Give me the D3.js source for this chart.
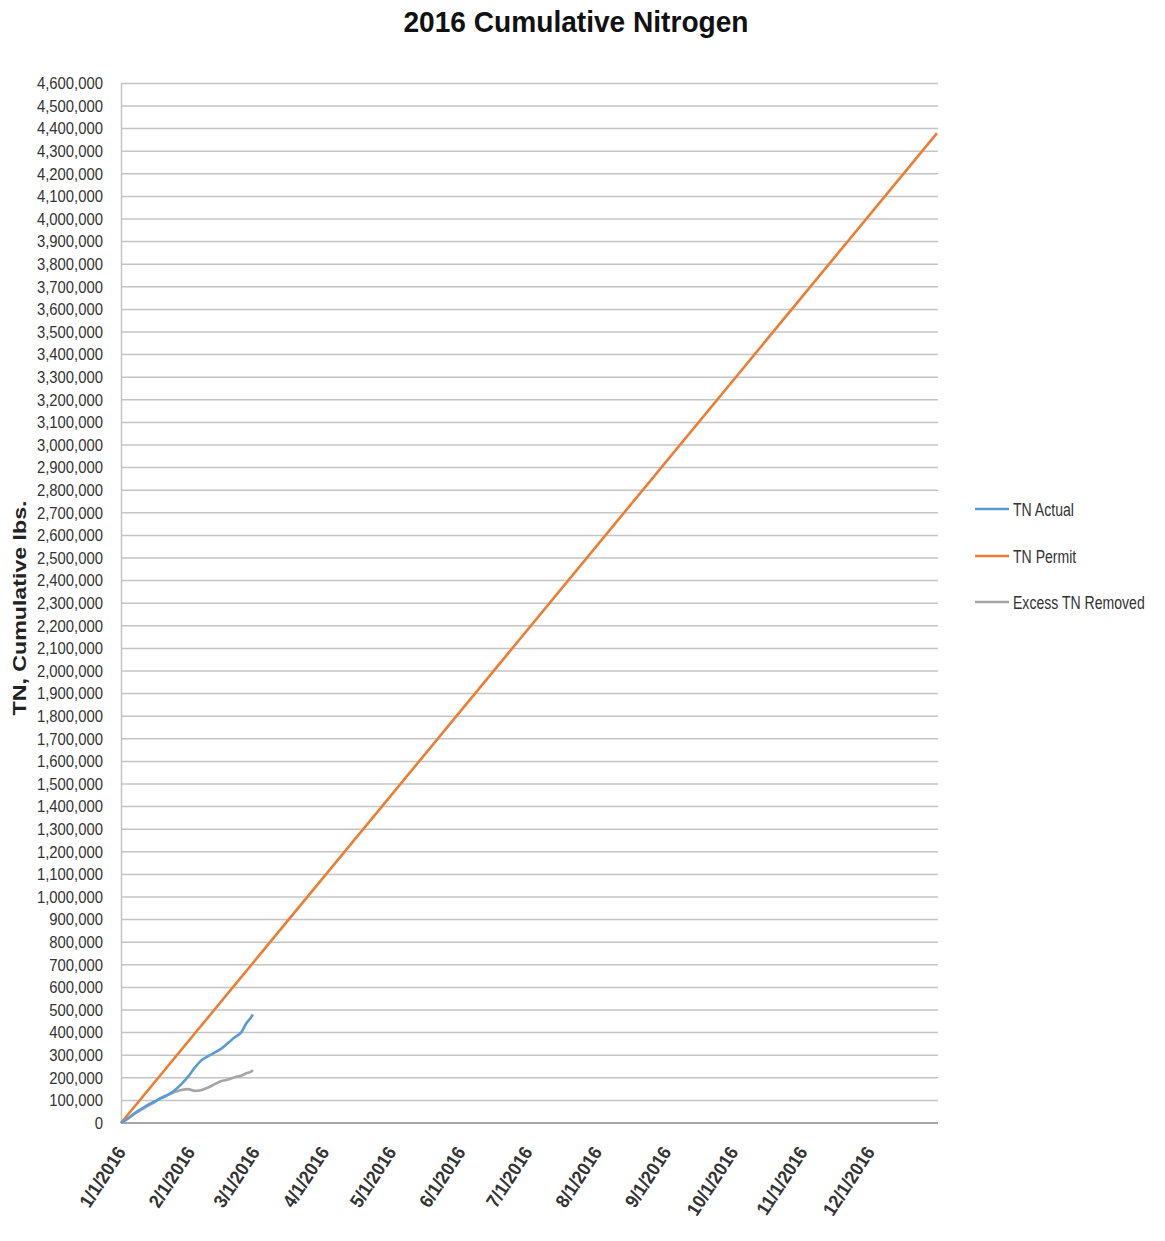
<!DOCTYPE html>
<html><head><meta charset="utf-8">
<script src="https://cdn.jsdelivr.net/npm/d3@7"></script>
<style>body{margin:0;background:#fff;} svg{display:block}</style>
</head><body>
<script>
const chartTitle = "2016 Cumulative Nitrogen";
const yAxisTitle = "TN, Cumulative lbs.";
const seriesNames = ["TN Actual", "TN Permit", "Excess TN Removed"];
const seriesColors = ["#5b9bd5", "#ed7d31", "#a5a5a5"];

const actualDates = ["2016-01-01","2016-01-04","2016-01-07","2016-01-10","2016-01-13","2016-01-16","2016-01-19","2016-01-22","2016-01-25","2016-01-28","2016-01-31","2016-02-03","2016-02-06","2016-02-09","2016-02-12","2016-02-15","2016-02-18","2016-02-21","2016-02-24","2016-02-26","2016-02-28","2016-02-29"];
const actualValues = [0,20000,43000,62000,80000,95000,110000,124000,145000,172000,205000,245000,278000,296000,312000,330000,355000,380000,404000,440000,465000,480000];

const excessDates = ["2016-01-01","2016-01-04","2016-01-07","2016-01-10","2016-01-13","2016-01-16","2016-01-19","2016-01-22","2016-01-25","2016-01-28","2016-01-31","2016-02-03","2016-02-06","2016-02-09","2016-02-12","2016-02-15","2016-02-18","2016-02-21","2016-02-24","2016-02-26","2016-02-28","2016-02-29"];
const excessValues = [0,18000,40000,58000,76000,92000,112000,125000,137000,146000,150000,142000,146000,157000,172000,186000,192000,203000,210000,220000,226000,234000];

const permitDates = ["2016-01-01","2016-12-31"];
const permitValues = [0, 4380000];

const xTickDates = ["2016-01-01","2016-02-01","2016-03-01","2016-04-01","2016-05-01","2016-06-01","2016-07-01","2016-08-01","2016-09-01","2016-10-01","2016-11-01","2016-12-01"];
const xTickLabels = ["1/1/2016","2/1/2016","3/1/2016","4/1/2016","5/1/2016","6/1/2016","7/1/2016","8/1/2016","9/1/2016","10/1/2016","11/1/2016","12/1/2016"];
const yMax = 4600000;
const yStep = 100000;

const W = 1165, H = 1241;
const plot = {left: 121, right: 937, top: 83.4, bottom: 1123};
const parse = d3.utcParse("%Y-%m-%d");
const sans = "'Liberation Sans', Arial, sans-serif";

// condense text horizontally by factor k
function condense(sel, k) {
  sel.each(function() {
    const w = this.getComputedTextLength();
    this.setAttribute("textLength", (w * k).toFixed(1));
    this.setAttribute("lengthAdjust", "spacingAndGlyphs");
  });
}

const svg = d3.select("body").append("svg").attr("width", W).attr("height", H);

const x = d3.scaleUtc().domain([parse("2016-01-01"), parse("2016-12-31")]).range([plot.left, plot.right]);
const y = d3.scaleLinear().domain([0, yMax]).range([plot.bottom, plot.top]);
const yTicks = d3.range(0, yMax + 1, yStep);

// gridlines
svg.append("g").selectAll("line").data(yTicks.filter(d => d > 0)).join("line")
  .attr("x1", plot.left).attr("x2", plot.right + 1)
  .attr("y1", d => y(d)).attr("y2", d => y(d))
  .attr("stroke", "#c4c4c4").attr("stroke-width", 1.5);

// y axis
const yAxis = d3.axisLeft(y).tickValues(yTicks).tickSize(0).tickPadding(18)
  .tickFormat(d3.format(","));
const gy = svg.append("g").attr("transform", `translate(${plot.left},0)`).call(yAxis);
gy.select(".domain").attr("stroke", "#c4c4c4").attr("stroke-width", 1.5);
gy.selectAll("text").attr("font-family", sans).attr("font-size", 16.5).attr("fill", "#333");
condense(gy.selectAll("text"), 0.9);

// x axis
const xAxis = d3.axisBottom(x).tickValues(xTickDates.map(parse)).tickSize(0)
  .tickFormat((d, i) => xTickLabels[i]);
const gx = svg.append("g").attr("transform", `translate(0,${plot.bottom})`).call(xAxis);
gx.select(".domain").attr("stroke", "#a6a6a6").attr("stroke-width", 1.8).attr("d", `M${plot.left},0H${plot.right + 1}`);
gx.selectAll("text")
  .attr("font-family", sans).attr("font-size", 19).attr("font-weight", "bold").attr("fill", "#333")
  .attr("text-anchor", "end").attr("dy", 0).attr("y", 0)
  .attr("transform", "translate(5,29) rotate(-57)");
condense(gx.selectAll("text"), 0.92);

// series
const line = d3.line().x(d => x(d[0])).y(d => y(d[1])).curve(d3.curveMonotoneX);
const series = [
  {name: seriesNames[1], color: seriesColors[1], pts: permitDates.map((d, i) => [parse(d), permitValues[i]])},
  {name: seriesNames[2], color: seriesColors[2], pts: excessDates.map((d, i) => [parse(d), excessValues[i]])},
  {name: seriesNames[0], color: seriesColors[0], pts: actualDates.map((d, i) => [parse(d), actualValues[i]])}
];
svg.append("g").selectAll("path").data(series).join("path")
  .attr("d", d => line(d.pts)).attr("fill", "none")
  .attr("stroke", d => d.color).attr("stroke-width", 2.6).attr("stroke-linejoin", "round");

// title
const title = svg.append("text").attr("x", 576).attr("y", 32).attr("text-anchor", "middle")
  .attr("font-family", sans).attr("font-weight", "bold").attr("font-size", 30).attr("fill", "#111")
  .text(chartTitle);
title.attr("textLength", 345).attr("lengthAdjust", "spacingAndGlyphs");

// y title
svg.append("text").attr("transform", "translate(26,608) rotate(-90)").attr("text-anchor", "middle")
  .attr("font-family", sans).attr("font-weight", "bold").attr("font-size", 19).attr("fill", "#222")
  .attr("textLength", 215).attr("lengthAdjust", "spacingAndGlyphs")
  .text(yAxisTitle);

// legend
const legY = [509, 556, 602];
const legScale = 0.74;
const leg = svg.append("g").selectAll("g").data(seriesNames).join("g")
  .attr("transform", (d, i) => `translate(975,${legY[i]})`);
leg.append("line").attr("x1", 0).attr("x2", 34).attr("stroke", (d, i) => seriesColors[i]).attr("stroke-width", 2.6);
leg.append("g").attr("transform", `translate(38,0) scale(${legScale},1)`)
  .append("text").attr("x", 0).attr("dy", "0.36em").attr("font-family", sans).attr("font-size", 19).attr("fill", "#333").text(d => d);
</script>
</body></html>
